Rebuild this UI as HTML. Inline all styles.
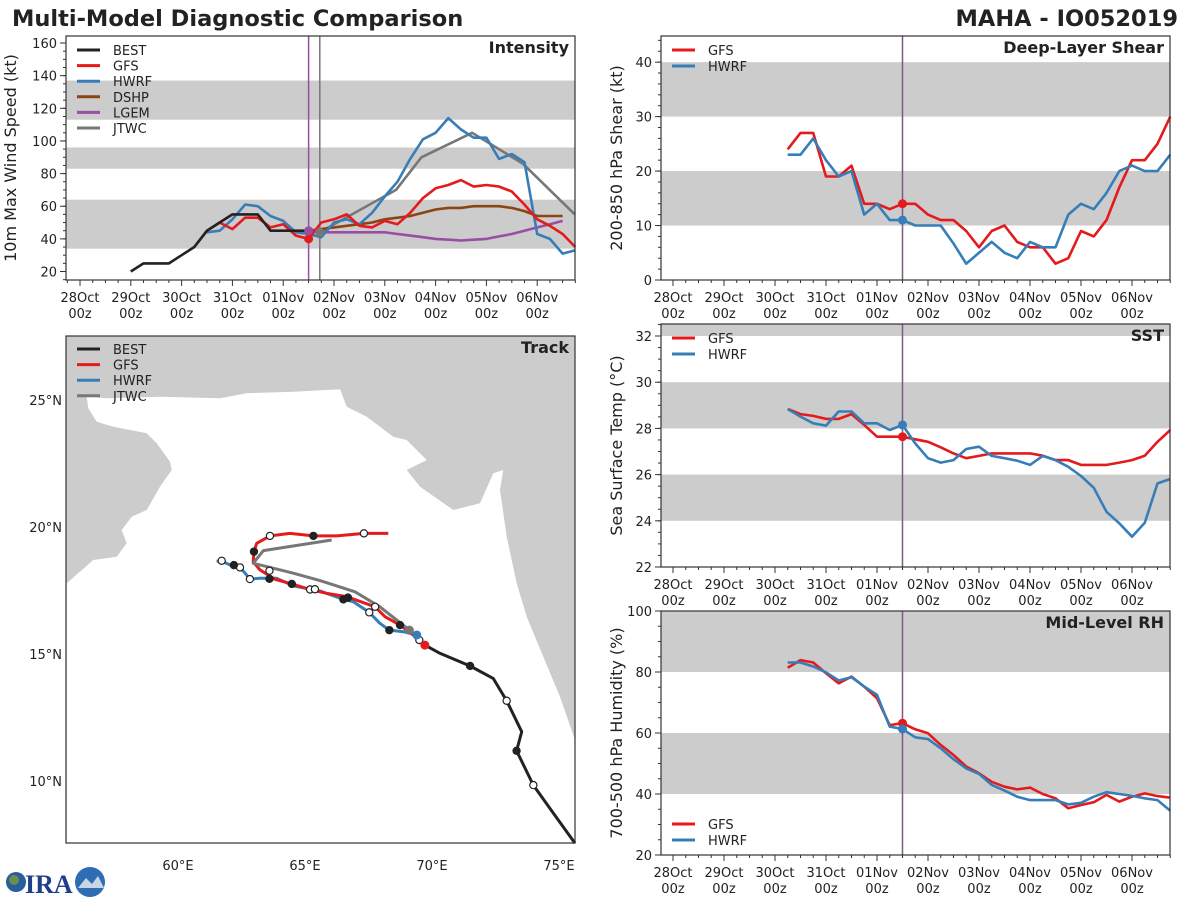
<!DOCTYPE html>
<html><head><meta charset="utf-8"><style>
html,body{margin:0;padding:0;background:#fff}
svg{display:block;font-family:"DejaVu Sans","Liberation Sans",sans-serif}
</style></head><body>
<svg id="s" width="1200" height="900" viewBox="0 0 1200 900" xmlns="http://www.w3.org/2000/svg">
<text x="12" y="26" font-size="22.5" font-weight="bold" fill="#222">Multi-Model Diagnostic Comparison</text>
<text x="1178" y="26" font-size="22.5" font-weight="bold" fill="#222" text-anchor="end">MAHA - IO052019</text>
<g>
<circle cx="16" cy="882" r="10" fill="#2a5d9c"/><circle cx="14" cy="880" r="5" fill="#6b8e4e"/>
<text x="25" y="893" font-size="26" font-weight="bold" fill="#1f3f8a" font-family="Liberation Serif,serif">IRA</text>
<circle cx="90" cy="882" r="15" fill="#2e6db4"/><path d="M78 888 L86 878 L92 884 L98 876 L104 888 Z" fill="#c9d6e6"/>
</g>
</svg>
<script>
// ---------- DATA ----------
const intBestT=[1,1.25,1.5,1.75,2,2.25,2.5,2.75,3,3.25,3.5,3.75,4,4.25,4.5];
const intBest=[20,25,25,25,30,35,45,50,55,55,55,45,45,45,45];
const intGfsT0=2.25;
const intGfs=[35,45,50,46,53,53,47,49,42,40,50,52,55,48,47,51,49,56,65,71,73,76,72,73,72,69,61,52,48,43,35];
const intHwrfT0=2.5;
const intHwrf=[44,45,52,61,60,54,51,44,43,41,50,52,49,56,66,75,89,101,105,114,107,102,102,89,92,87,43,40,31,33];
const intDshpT0=4.5;
const intDshp=[45,46,47,48,49,50,52,53,54,56,58,59,59,60,60,60,59,57,54,54,54];
const intLgemT0=4.5;
const intLgem=[45,44,44,44,44,44,44,43,42,41,40,39.5,39,39.5,40,41.5,43,45,47,49,51];
const intJtwcT=[4.72,6.22,6.72,7.72,8.72,9.74];
const intJtwc=[44,70,90,105,86,55];
const intBands=[[34,64],[83,96],[113,137]];
const intTicks=[20,40,60,80,100,120,140,160];
const dayLabels=["28Oct","29Oct","30Oct","31Oct","01Nov","02Nov","03Nov","04Nov","05Nov","06Nov"];

const envT0=2.25;
const shearGfs=[24,27,27,19,19,21,14,14,13,14,14,12,11,11,9,6,9,10,7,6,6,3,4,9,8,11,17,22,22,25,30];
const shearHwrf=[23,23,26,22,19,20,12,14,11,11,10,10,10,6.7,3,5,7,5,4,7,6,6,12,14,13,16,20,21,20,20,23];
const shearBands=[[10,20],[30,40]];
const shearTicks=[0,10,20,30,40];
const sstGfs=[28.84,28.62,28.54,28.41,28.41,28.62,28.15,27.64,27.64,27.64,27.53,27.42,27.18,26.92,26.71,26.81,26.92,26.92,26.92,26.92,26.82,26.63,26.63,26.42,26.42,26.42,26.52,26.63,26.82,27.42,27.93];
const sstHwrf=[28.84,28.51,28.22,28.12,28.73,28.73,28.22,28.22,27.93,28.15,27.35,26.71,26.52,26.63,27.11,27.21,26.81,26.71,26.6,26.42,26.81,26.63,26.34,25.94,25.43,24.39,23.89,23.31,23.92,25.62,25.81];
const sstBands=[[24,26],[28,30],[32,33]];
const sstTicks=[22,24,26,28,30,32];
const rhGfs=[81.4,83.9,83.1,79.6,76.3,78.5,75.2,71.4,62.6,63.2,61.2,59.9,56.1,52.8,49.0,46.8,44.0,42.4,41.5,42.1,40.0,38.6,35.3,36.4,37.3,39.7,37.5,39.1,40.2,39.3,38.8];
const rhHwrf=[83.1,83.1,81.8,79.9,77.2,78.3,75.2,72.5,62.1,61.3,58.6,58.0,55.0,51.4,48.4,46.6,43.0,41.1,39.1,38.0,38.0,38.0,36.6,37.1,39.1,40.6,40.0,39.4,38.6,38.0,34.5];
const rhBands=[[40,60],[80,100]];
const rhTicks=[20,40,60,80,100];

// tracks [lon,lat]
const trkBest=[[69.72,15.35],[70.31,15.03],[71.50,14.53],[72.41,14.04],[72.94,13.16],[73.53,11.94],[73.33,11.19],[73.99,9.84],[74.78,8.73],[75.63,7.55]];
const trkBestMk=[[71.50,14.53,1],[72.94,13.16,0],[73.33,11.19,1],[73.99,9.84,0]];
const trkGfs=[[69.72,15.35],[69.26,15.75],[68.74,16.14],[68.15,16.47],[67.76,16.86],[66.64,17.26],[65.85,17.39],[65.20,17.54],[64.48,17.76],[63.82,17.94],[63.23,18.31],[62.96,18.63],[62.99,19.03],[63.10,19.36],[63.62,19.65],[64.41,19.75],[65.33,19.65],[66.25,19.65],[67.32,19.75],[68.28,19.75]];
const trkGfsMk=[[69.50,15.55,0],[68.74,16.14,1],[67.76,16.86,0],[66.69,17.22,1],[65.20,17.54,0],[64.48,17.76,1],[63.60,18.28,0],[62.99,19.03,1],[63.62,19.65,0],[65.33,19.65,1],[67.32,19.75,0]];
const trkHwrf=[[69.40,15.75],[68.87,15.88],[68.32,15.94],[67.95,16.21],[67.53,16.64],[66.90,17.06],[66.51,17.15],[65.39,17.55],[65.20,17.55],[64.54,17.68],[63.89,17.98],[63.23,17.98],[62.83,17.95],[62.64,18.18],[62.44,18.41],[62.20,18.44],[61.72,18.65],[61.52,18.66]];
const trkHwrfMk=[[68.32,15.94,1],[67.53,16.64,0],[66.51,17.15,1],[65.39,17.55,0],[63.60,17.96,1],[62.83,17.95,0],[62.44,18.41,0],[62.20,18.50,1],[61.72,18.67,0]];
const trkJtwc=[[69.11,15.94],[67.95,16.86],[66.97,17.45],[65.59,17.89],[64.54,18.18],[63.49,18.44],[62.96,18.57],[63.36,19.07],[66.05,19.49]];
const latTicks=[10,15,20,25];
const lonTicks=[60,65,70,75];

// ---------- DRAW ----------
const S=document.getElementById('s');
const NS='http://www.w3.org/2000/svg';
function el(tag,attrs,parent){const e=document.createElementNS(NS,tag);for(const k in attrs)e.setAttribute(k,attrs[k]);(parent||S).appendChild(e);return e;}
function txt(x,y,s,attrs,parent){const e=el('text',Object.assign({x:x,y:y,'font-size':13,fill:'#222'},attrs||{}),parent);e.textContent=s;return e;}
const C={BEST:'#222222',GFS:'#e41a1c',HWRF:'#377eb8',DSHP:'#8b4513',LGEM:'#984ea3',JTWC:'#777777'};

function panel(name,x0,x1,y0,y1,d0,d1,v0,v1){
  const g=el('g',{});
  
  
  return {g:g,x0,x1,y0,y1,X:d=>x0+(d-d0)/(d1-d0)*(x1-x0),Y:v=>y1-(v-v0)/(v1-v0)*(y1-y0),v0,v1};
}
function bands(p,arr){arr.forEach(b=>{const ya=p.Y(Math.min(b[1],p.v1)),yb=p.Y(b[0]);const r=el('rect',{x:p.x0,y:ya,width:p.x1-p.x0,height:yb-ya,fill:'#cccccc'},p.g);});}
function frame(p){const r=el('rect',{x:p.x0,y:p.y0,width:p.x1-p.x0,height:p.y1-p.y0,fill:'none',stroke:'#333','stroke-width':1.2},p.g);}
function xaxis(p,labels){
  const g=el('g',{},p.g);
  for(let h=-0.25;h<=9.75;h+=0.25){const x=p.X(h);if(x<p.x0-0.5||x>p.x1+0.5)continue;const maj=Math.abs(h-Math.round(h))<1e-6;el('line',{x1:x,x2:x,y1:p.y1,y2:p.y1+(maj?6:3),stroke:'#333','stroke-width':1},g);}
  labels.forEach((l,i)=>{const x=p.X(i);const t=txt(x,p.y1+22,l,{'text-anchor':'middle'},g);
    const t2=txt(x,p.y1+38,'00z',{'text-anchor':'middle'},g);});
}
function yaxis(p,ticks,minor,title,tx){
  const g=el('g',{},p.g);
  for(let v=ticks[0]-minor*4;v<=p.v1;v+=minor){if(v<p.v0)continue;const y=p.Y(v);el('line',{x1:p.x0-3,x2:p.x0,y1:y,y2:y,stroke:'#333'},g);}
  ticks.forEach(v=>{const y=p.Y(v);el('line',{x1:p.x0-6,x2:p.x0,y1:y,y2:y,stroke:'#333'},g);const t=txt(p.x0-9,y+5,String(v),{'text-anchor':'end'},g);});
  const cy=(p.y0+p.y1)/2;const t=txt(tx,cy,title,{'text-anchor':'middle','font-size':16,transform:`rotate(-90 ${tx} ${cy})`},g);
}
function series(p,ts,vs,color,name,w){
  const pts=vs.map((v,i)=>p.X(ts(i)).toFixed(1)+','+p.Y(v).toFixed(1)).join(' ');
  const e=el('polyline',{points:pts,fill:'none',stroke:color,'stroke-width':w||2.6,'stroke-linejoin':'round'},p.g);
  
  
}
function dot(p,d,v,color,name){const c=el('circle',{cx:p.X(d),cy:p.Y(v),r:4.5,fill:color},p.g);}
function legend(p,items,x,y,step){
  const g=el('g',{},p.g);
  items.forEach((it,i)=>{const yy=y+i*step;el('line',{x1:x,x2:x+23,y1:yy,y2:yy,stroke:C[it],'stroke-width':3},g);const t=txt(x+36,yy+5,it,{},g);});
}
function ptitle(p,s){const t=txt(p.x1-6,p.y0+17,s,{'text-anchor':'end','font-size':16,'font-weight':'bold'},p.g);}
function vline(p,d,color){const l=el('line',{x1:p.X(d),x2:p.X(d),y1:p.y0,y2:p.y1,stroke:color,'stroke-width':1.5},p.g);}

// Intensity
const pi=panel('intensity-panel',66,575,36,280,-0.276,9.744,14.8,164.3);
bands(pi,intBands);
vline(pi,4.5,C.LGEM);vline(pi,4.72,C.JTWC);
series(pi,i=>intJtwcT[i],intJtwc,C.JTWC,'jtwc-line');
series(pi,i=>intLgemT0+i*0.25,intLgem,C.LGEM,'lgem-line');
series(pi,i=>intDshpT0+i*0.25,intDshp,C.DSHP,'dshp-line');
series(pi,i=>intHwrfT0+i*0.25,intHwrf,C.HWRF,'hwrf-line');
series(pi,i=>intGfsT0+i*0.25,intGfs,C.GFS,'gfs-line');
series(pi,i=>intBestT[i],intBest,C.BEST,'best-line');
dot(pi,4.5,intGfs[9],C.GFS,'gfs-init-dot');dot(pi,4.5,intLgem[0],C.LGEM,'lgem-init-dot');dot(pi,intJtwcT[0],intJtwc[0],C.JTWC,'jtwc-init-dot');
frame(pi);xaxis(pi,dayLabels);yaxis(pi,intTicks,5,'10m Max Wind Speed (kt)',16);
legend(pi,['BEST','GFS','HWRF','DSHP','LGEM','JTWC'],77,50,15.6);ptitle(pi,'Intensity');

// env panels
function envPanel(name,y0,y1,v0,v1,bnd,gfs,hwrf,ticks,minor,title,ttl){
  const p=panel(name,661,1170,y0,y1,-0.235,9.745,v0,v1);
  bands(p,bnd);vline(p,4.5,'#7a5a82');
  series(p,i=>envT0+i*0.25,gfs,C.GFS,'gfs-line');
  series(p,i=>envT0+i*0.25,hwrf,C.HWRF,'hwrf-line');
  dot(p,4.5,gfs[9],C.GFS,'gfs-init-dot');dot(p,4.5,hwrf[9],C.HWRF,'hwrf-init-dot');
  frame(p);xaxis(p,dayLabels);yaxis(p,ticks,minor,title,622);ptitle(p,ttl);return p;
}
const ps=envPanel('shear-panel',36,280,0,44.8,shearBands,shearGfs,shearHwrf,shearTicks,2,'200-850 hPa Shear (kt)','Deep-Layer Shear');
legend(ps,['GFS','HWRF'],672,50,16);
const pt=envPanel('sst-panel',324,567,22,32.52,sstBands,sstGfs,sstHwrf,sstTicks,0.5,'Sea Surface Temp (°C)','SST');
legend(pt,['GFS','HWRF'],672,338,16);
const pr=envPanel('rh-panel',611,855,20,100,rhBands,rhGfs,rhHwrf,rhTicks,5,'700-500 hPa Humidity (%)','Mid-Level RH');
legend(pr,['GFS','HWRF'],672,824,16);

// Track map
const pm=panel('track-panel',66,575,336,843,55.59,75.63,7.56,27.52);
const gm=pm.g;
const land=el('rect',{x:66,y:336,width:509,height:507,fill:'#cccccc'},gm);

const seaZ=[[20,760],[100,690],[170,680],[200,640],[185,600],[215,560],[260,540],[300,470],[335,420],[330,395],[290,340],[260,310],[160,290],[110,275],[85,235],[80,200],[140,205],[300,200],[480,205],[560,190],[700,185],[840,178],[860,230],[920,260],[1000,320],[1040,330],[1100,390],[1040,420],[1080,470],[1180,540],[1260,520],[1300,430],[1330,420],[1320,480],[1340,620],[1370,760],[1400,860],[1450,980],[1500,1100],[1545,1230],[1545,1545],[20,1545]];
const sea=el('polygon',{points:seaZ.map(p=>(60+p[0]/3).toFixed(1)+','+(330+p[1]/3).toFixed(1)).join(' '),fill:'#fff'},gm);

function trk(arr,color,name,w){const e=el('polyline',{points:arr.map(q=>pm.X(q[0]).toFixed(1)+','+pm.Y(q[1]).toFixed(1)).join(' '),fill:'none',stroke:color,'stroke-width':w||3,'stroke-linejoin':'round'},gm);}
function mk(arr,name){arr.forEach(q=>{const c=el('circle',{cx:pm.X(q[0]),cy:pm.Y(q[1]),r:3.6,fill:q[2]?'#222':'#fff',stroke:'#222','stroke-width':1.2},gm);});}
trk(trkBest,C.BEST,'best-track');
trk(trkHwrf,C.HWRF,'hwrf-track');
trk(trkGfs,C.GFS,'gfs-track');
trk(trkJtwc,C.JTWC,'jtwc-track');
mk(trkBestMk,'best-marker');mk(trkGfsMk,'gfs-marker');mk(trkHwrfMk,'hwrf-marker');
const d1=el('circle',{cx:pm.X(trkGfs[0][0]),cy:pm.Y(trkGfs[0][1]),r:4.5,fill:C.GFS},gm);
const d2=el('circle',{cx:pm.X(trkHwrf[0][0]),cy:pm.Y(trkHwrf[0][1]),r:4.5,fill:C.HWRF},gm);
const d3=el('circle',{cx:pm.X(trkJtwc[0][0]),cy:pm.Y(trkJtwc[0][1]),r:4.5,fill:C.JTWC},gm);
frame(pm);
latTicks.forEach(v=>{const y=pm.Y(v);const t=txt(62,y+5,v+'°N',{'text-anchor':'end'},gm);});
lonTicks.forEach(v=>{const x=pm.X(v);const t=txt(x,870,v+'°E',{'text-anchor':'middle'},gm);});
legend(pm,['BEST','GFS','HWRF','JTWC'],77,349,15.6);ptitle(pm,'Track');
</script>
</body></html>
